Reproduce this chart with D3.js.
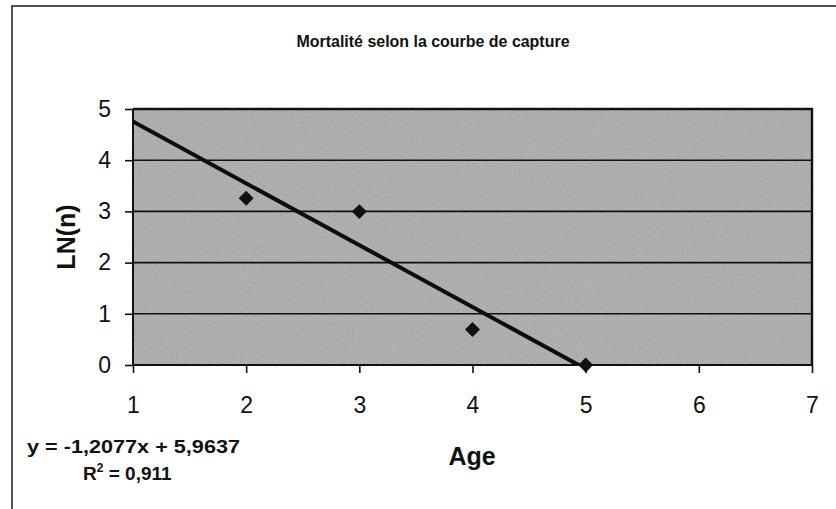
<!DOCTYPE html>
<html>
<head>
<meta charset="utf-8">
<script src="https://cdn.jsdelivr.net/npm/d3@7"></script>
<style>
  html, body { margin: 0; padding: 0; background: #ffffff; }
  svg { display: block; }
  text { font-family: "Liberation Sans", Arial, Helvetica, sans-serif; fill: #111; }
</style>
</head>
<body>
<svg id="chart" width="836" height="509"></svg>
<script>
// Capture-curve data: age vs ln(catch)
const ages = [2, 3, 4, 5];
const lnCatch = [3.2581, 2.9957, 0.6931, 0];

// Linear trend fitted to the points
const trendSlope = -1.2077;
const trendIntercept = 5.9637;
const trendR2 = 0.911;
const trendRange = [1, 5];

const xTicks = [1, 2, 3, 4, 5, 6, 7];
const yTicks = [0, 1, 2, 3, 4, 5];

const titleText = "Mortalité selon la courbe de capture";
const xLabel = "Age";
const yLabel = "LN(n)";

const fmt = v => String(v).replace(".", ",");

const svg = d3.select("#chart");
const W = 836, H = 509;
const plot = { left: 133, top: 109, right: 812, bottom: 365 };

const x = d3.scaleLinear().domain([1, 7]).range([plot.left, plot.right]);
const y = d3.scaleLinear().domain([0, 5]).range([plot.bottom, plot.top]);

// Grain texture for the shaded plot area
const defs = svg.append("defs");
const grain = defs.append("filter").attr("id", "grain")
  .attr("x", 0).attr("y", 0).attr("width", "100%").attr("height", "100%");
grain.append("feTurbulence").attr("type", "fractalNoise")
  .attr("baseFrequency", 0.9).attr("numOctaves", 2).attr("seed", 4).attr("result", "n");
grain.append("feColorMatrix").attr("in", "n").attr("type", "matrix")
  .attr("values", "0 0 0 0 0  0 0 0 0 0  0 0 0 0 0  0 0 0 0.9 -0.25")
  .attr("result", "dots");
grain.append("feComposite").attr("in", "dots").attr("in2", "SourceGraphic").attr("operator", "in");

defs.append("clipPath").attr("id", "plotClip")
  .append("rect")
  .attr("x", plot.left).attr("y", plot.top)
  .attr("width", plot.right - plot.left).attr("height", plot.bottom - plot.top);

// Outer chart frame
svg.append("rect")
  .attr("x", 12).attr("y", 6).attr("width", W).attr("height", H)
  .attr("fill", "none").attr("stroke", "#1a1a1a").attr("stroke-width", 1.5);

// Title
svg.append("text")
  .attr("x", 433).attr("y", 47)
  .attr("text-anchor", "middle")
  .attr("font-size", 16).attr("font-weight", "bold")
  .attr("textLength", 273).attr("lengthAdjust", "spacingAndGlyphs")
  .text(titleText);

// Plot area background
svg.append("rect")
  .attr("x", plot.left).attr("y", plot.top)
  .attr("width", plot.right - plot.left).attr("height", plot.bottom - plot.top)
  .attr("fill", "#b6b6b6");
svg.append("rect")
  .attr("x", plot.left).attr("y", plot.top)
  .attr("width", plot.right - plot.left).attr("height", plot.bottom - plot.top)
  .attr("fill", "#000").attr("opacity", 0.22)
  .attr("filter", "url(#grain)");

// Horizontal gridlines
svg.append("g")
  .selectAll("line")
  .data(yTicks.filter(d => d > 0 && d < 5))
  .join("line")
  .attr("x1", plot.left).attr("x2", plot.right)
  .attr("y1", d => y(d)).attr("y2", d => y(d))
  .attr("stroke", "#111").attr("stroke-width", 1.6);

// Plot border (top and right)
svg.append("path")
  .attr("d", `M${plot.left},${plot.top}H${plot.right}V${plot.bottom}`)
  .attr("fill", "none").attr("stroke", "#111").attr("stroke-width", 2.4);

// Axes
const xAxis = d3.axisBottom(x).tickValues(xTicks).tickSize(8).tickPadding(24).tickFormat(d3.format("d"));
const yAxis = d3.axisLeft(y).tickValues(yTicks).tickSize(8).tickPadding(14).tickFormat(d3.format("d"));

const gx = svg.append("g").attr("transform", `translate(0,${plot.bottom})`).call(xAxis);
const gy = svg.append("g").attr("transform", `translate(${plot.left},0)`).call(yAxis);

[gx, gy].forEach(g => {
  g.attr("font-size", 23).attr("font-family", "'Liberation Sans', Arial, sans-serif");
  g.select(".domain").attr("stroke", "#111").attr("stroke-width", 2);
  g.selectAll(".tick line").attr("stroke", "#111").attr("stroke-width", 1.6);
  g.selectAll(".tick text").attr("fill", "#111");
});
gx.select(".domain").attr("d", `M${plot.left},0H${plot.right}`);
gy.select(".domain").attr("d", `M0,${plot.bottom}V${plot.top}`);

// Axis titles
svg.append("text")
  .attr("x", x(4.0) - 0.5).attr("y", 465)
  .attr("text-anchor", "middle")
  .attr("font-size", 25).attr("font-weight", "bold")
  .text(xLabel);

svg.append("text")
  .attr("transform", `translate(75,${(plot.top + plot.bottom) / 2}) rotate(-90)`)
  .attr("text-anchor", "middle")
  .attr("font-size", 25).attr("font-weight", "bold")
  .text(yLabel);

// Trend line
const trendData = trendRange.map(a => [a, trendSlope * a + trendIntercept]);
svg.append("path")
  .datum(trendData)
  .attr("clip-path", "url(#plotClip)")
  .attr("d", d3.line().x(d => x(d[0])).y(d => y(d[1])))
  .attr("fill", "none").attr("stroke", "#0d0d0d").attr("stroke-width", 4);

// Data markers (diamonds)
const diamond = d3.symbol().type(d3.symbolSquare).size(112);
svg.append("g")
  .selectAll("path")
  .data(ages.map((a, i) => [a, lnCatch[i]]))
  .join("path")
  .attr("transform", d => `translate(${x(d[0])},${y(d[1])}) rotate(45)`)
  .attr("d", diamond)
  .attr("fill", "#111");

// Regression equation
svg.append("text")
  .attr("x", 27).attr("y", 453)
  .attr("font-size", 19).attr("font-weight", "bold")
  .attr("textLength", 213).attr("lengthAdjust", "spacingAndGlyphs")
  .text(`y = ${fmt(trendSlope)}x + ${fmt(trendIntercept)}`);

const r2 = svg.append("text")
  .attr("x", 83).attr("y", 480)
  .attr("font-size", 19).attr("font-weight", "bold");
r2.append("tspan").text("R");
r2.append("tspan").attr("font-size", 12).attr("dy", -8).text("2");
r2.append("tspan").attr("dy", 8).text(` = ${fmt(trendR2)}`);
</script>
</body>
</html>
